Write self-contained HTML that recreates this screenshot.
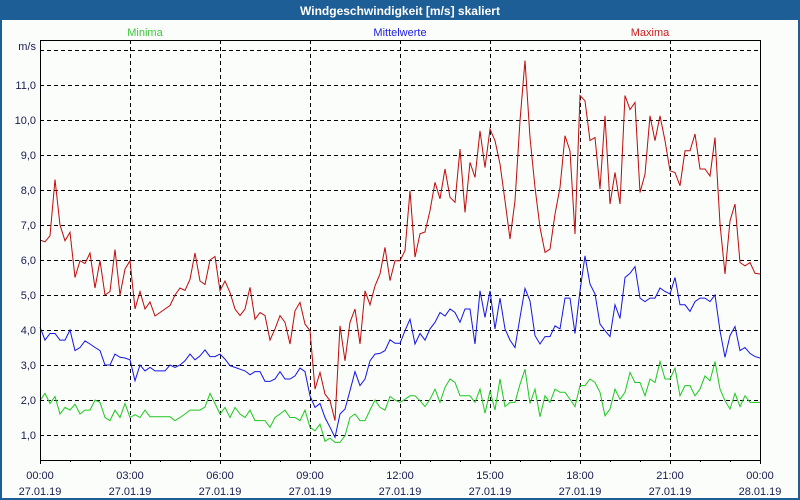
<!DOCTYPE html>
<html><head><meta charset="utf-8"><style>
body{margin:0;width:800px;height:500px;overflow:hidden;background:#fff;font-family:"Liberation Sans",sans-serif}
svg{display:block}
</style></head><body>
<svg id="chart" width="800" height="500">
<rect x="0" y="0" width="800" height="500" fill="#1d5e96"/>
<rect x="2" y="20" width="796" height="478" fill="#fbfdfb"/>
<text x="400" y="15" text-anchor="middle" fill="#fff" font-size="12" font-weight="bold">Windgeschwindigkeit [m/s] skaliert</text>
<text x="145" y="36" text-anchor="middle" fill="#3cc83c" font-size="11">Minima</text>
<text x="400" y="36" text-anchor="middle" fill="#2020e0" font-size="11">Mittelwerte</text>
<text x="650" y="36" text-anchor="middle" fill="#c81e1e" font-size="11">Maxima</text>
<text x="36" y="50" text-anchor="end" fill="#1a1a50" font-size="11">m/s</text>
<g id="grid"></g><g id="series"></g><g id="axes"></g>
</svg>
<script>
const yTicks=[1,2,3,4,5,6,7,8,9,10,11];
const xTickLabels=["00:00","03:00","06:00","09:00","12:00","15:00","18:00","21:00","00:00"];
const xDateLabels=["27.01.19","27.01.19","27.01.19","27.01.19","27.01.19","27.01.19","27.01.19","27.01.19","28.01.19"];
const maxima=[6.57,6.52,6.69,8.3,7.0,6.55,6.79,5.5,5.98,5.9,6.2,5.2,5.98,5.0,5.1,6.3,5.0,5.74,5.98,4.6,5.1,4.6,4.8,4.4,4.5,4.6,4.7,5.0,5.2,5.13,5.45,6.2,5.4,5.3,6.0,6.1,5.12,5.4,5.07,4.6,4.41,4.6,5.22,4.31,4.5,4.41,3.71,4.03,4.41,4.22,3.6,4.55,4.79,4.17,3.98,2.31,2.79,2.17,1.98,1.41,4.12,3.12,4.22,4.6,3.6,5.12,4.72,5.26,5.6,6.36,5.41,5.98,5.98,6.27,7.98,6.08,6.75,6.8,7.41,8.22,7.75,8.6,7.79,7.65,9.17,7.36,8.79,8.36,9.69,8.64,9.74,9.41,8.74,7.69,6.6,7.69,9.98,11.7,9.5,8.07,6.93,6.22,6.31,7.31,8.07,9.55,9.12,6.74,10.7,10.55,9.41,9.5,8.03,10.12,7.6,8.5,7.6,10.7,10.3,10.5,7.93,8.45,10.12,9.41,10.12,9.41,8.55,8.5,8.12,9.12,9.12,9.6,8.6,8.6,8.4,9.5,7.03,5.6,7.12,7.6,5.93,5.83,5.93,5.62,5.6];
const mittel=[4.08,3.71,3.9,3.9,3.71,3.71,4.0,3.41,3.5,3.69,3.6,3.5,3.41,3.0,3.0,3.31,3.22,3.2,3.15,2.55,3.0,2.83,2.93,2.83,2.83,2.83,3.0,2.93,3.0,3.12,3.31,3.15,3.26,3.43,3.24,3.24,3.31,3.17,2.98,2.93,2.88,2.83,2.72,2.81,2.81,2.53,2.53,2.6,2.81,2.6,2.6,2.69,2.91,2.81,2.12,1.79,1.9,1.5,1.22,0.93,1.6,1.74,2.27,2.81,2.41,2.6,3.12,3.31,3.33,3.41,3.72,3.62,3.62,3.98,4.31,3.6,3.9,3.71,4.03,4.22,4.5,4.4,4.6,4.5,4.22,4.6,4.6,3.6,5.12,4.36,5.12,4.03,4.91,4.03,3.71,3.5,4.36,5.19,4.83,3.84,3.6,3.81,3.81,4.12,4.03,4.91,4.91,3.9,5.12,6.12,5.31,5.03,4.17,3.98,3.81,4.72,4.33,5.5,5.62,5.81,4.91,4.81,4.91,4.91,5.2,5.1,5.03,5.5,4.72,4.72,4.53,4.81,4.91,4.91,4.81,5.0,3.98,3.22,3.84,4.1,3.41,3.5,3.33,3.24,3.2];
const minima=[1.98,2.19,1.9,2.1,1.6,1.79,1.71,1.88,1.6,1.71,1.71,2.0,1.93,1.5,1.41,1.71,1.5,1.9,1.5,1.58,1.5,1.71,1.52,1.52,1.52,1.52,1.52,1.41,1.5,1.6,1.71,1.71,1.71,1.8,2.19,1.9,1.6,1.79,1.5,1.79,1.6,1.5,1.71,1.41,1.41,1.41,1.22,1.5,1.6,1.71,1.5,1.5,1.41,1.71,1.22,1.12,1.31,0.82,0.91,0.79,0.79,0.98,1.5,1.6,1.41,1.41,1.71,2.0,1.79,1.71,2.1,2.0,1.93,2.02,2.12,2.12,1.98,1.81,2.02,2.31,1.93,2.36,2.6,2.5,2.12,2.12,2.12,1.93,2.31,1.62,2.26,1.71,2.6,1.81,1.93,1.93,2.45,2.88,1.9,2.31,1.52,2.12,1.93,2.31,2.22,2.22,2.02,1.81,2.41,2.41,2.6,2.5,2.22,1.55,1.74,2.31,2.02,2.22,2.79,2.5,2.5,2.12,2.6,2.5,3.1,2.6,2.6,2.91,2.12,2.41,2.41,2.12,2.31,2.69,2.55,3.1,2.31,1.98,1.74,2.19,1.81,2.12,1.93,1.93,1.93];

const NS="http://www.w3.org/2000/svg";
const X0=40,X1=760,YTOP=40,YBOT=460;
const xs=i=>X0+i*(X1-X0)/(maxima.length-1);
const xh=h=>X0+h*(X1-X0)/24;
const ys=v=>435-(v-1)*35;
function mk(tag,attrs,parent){const e=document.createElementNS(NS,tag);for(const k in attrs)e.setAttribute(k,attrs[k]);parent.appendChild(e);return e;}
const grid=document.getElementById('grid'),series=document.getElementById('series'),axes=document.getElementById('axes');
[...yTicks,12].forEach(v=>{
  const l=mk('line',{x1:X0,x2:X1,y1:ys(v)+0.5,y2:ys(v)+0.5,stroke:'#000','stroke-dasharray':'4,3'},grid);
  
  
});
yTicks.forEach(v=>{
  const t=mk('text',{x:36,y:ys(v)+4,'text-anchor':'end',fill:'#1a1a50','font-size':11},axes);
  t.textContent=v.toFixed(1).replace('.',',');
  
  
});
xTickLabels.forEach((lab,i)=>{
  const x=xh(i*3);
  if(i>0&&i<xTickLabels.length-1){
    const g=mk('line',{x1:x+0.5,x2:x+0.5,y1:YTOP,y2:YBOT,stroke:'#000','stroke-dasharray':'4,3'},grid);
    
    
  }
  const t=mk('text',{x:x,y:479,'text-anchor':'middle',fill:'#1a1a50','font-size':11},axes);
  t.textContent=lab;
  
  
  const d=mk('text',{x:x,y:495,'text-anchor':'middle',fill:'#1a1a50','font-size':11},axes);
  d.textContent=xDateLabels[i];
  
  
});
for(let h=0;h<=24;h++){
  const x=xh(h)+0.5;
  const tk=mk('line',{x1:x,x2:x,y1:YBOT,y2:YBOT+(h%3===0?4:2),stroke:'#000'},axes);
  
  
}
const frame=mk('path',{d:`M${X0+0.5},${YTOP+0.5}H${X1+0.5}V${YBOT+0.5}H${X0+0.5}Z`,fill:'none',stroke:'#000'},axes);


function drawSeries(arr,color,name){
  const p=mk('polyline',{points:arr.map((v,i)=>xs(i).toFixed(1)+','+ys(v).toFixed(1)).join(' '),fill:'none',stroke:color,'stroke-width':1},series);
  
  
}
drawSeries(minima,'#1ec81e','minima-line');
drawSeries(mittel,'#1414e6','mittelwerte-line');
drawSeries(maxima,'#c00a0a','maxima-line');
</script>
</body></html>
